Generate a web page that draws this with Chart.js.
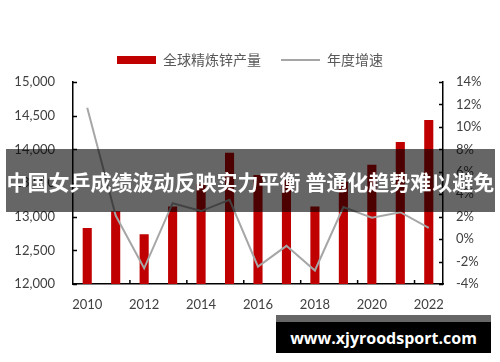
<!DOCTYPE html>
<html>
<head>
<meta charset="utf-8">
<script src="https://cdn.jsdelivr.net/npm/chart.js@4/dist/chart.umd.min.js"></script>
<style>
  body { margin: 0; background: #fff; }
  #wrap { position: relative; width: 500px; height: 362px; overflow: hidden; }
  #banner {
    position: absolute; left: 6px; top: 149px; width: 489px; height: 63px;
    background: rgba(0, 0, 0, 0.6); color: #fff;
    font: bold 21px "Noto Sans CJK SC", sans-serif;
    display: flex; align-items: center; justify-content: center; white-space: nowrap;
  }
  #mark {
    position: absolute; left: 276px; top: 315px; width: 215px; height: 31px;
    background: #000; border-top: 7px solid #666; color: #fff;
    font: bold 16px "Open Sans", sans-serif;
    display: flex; align-items: center; justify-content: center;
  }
</style>
</head>
<body>
<div id="wrap">
  <canvas id="chart" width="500" height="362"></canvas>
  <div id="banner">中国女乒成绩波动反映实力平衡 普通化趋势难以避免</div>
  <div id="mark">www.xjyroodsport.com</div>
</div>
<script>
// 연도 / 생산량(천톤) / 증가율(%)
const years = ["2010", "2011", "2012", "2013", "2014", "2015", "2016",
  "2017", "2018", "2019", "2020", "2021", "2022"];
const output = [12830, 13080, 12740, 13150, 13480, 13950, 13620,
  13540, 13150, 13520, 13770, 14110, 14435];
const growth = [11.7, 2.1, -2.6, 3.2, 2.5, 3.5, -2.45,
  -0.6, -2.8, 2.85, 1.9, 2.4, 1.0];

const TICK_FONT = { family: "Lato, 'Noto Sans CJK SC', sans-serif", size: 13 };

// 축 안쪽으로 짧은 눈금 표시 (엑셀 스타일)
const innerTicks = {
  id: "innerTicks",
  afterDraw(chart) {
    const { ctx, chartArea: a, scales } = chart;
    ctx.save();
    ctx.strokeStyle = "#000";
    ctx.lineWidth = 1.5;
    ctx.beginPath();
    scales.y.ticks.forEach((t, i) => {
      const py = Math.round(scales.y.getPixelForTick(i)) + 0.5;
      ctx.moveTo(a.left, py);
      ctx.lineTo(a.left + 4, py);
    });
    scales.y2.ticks.forEach((t, i) => {
      const py = Math.round(scales.y2.getPixelForTick(i)) + 0.5;
      ctx.moveTo(a.right - 4, py);
      ctx.lineTo(a.right, py);
    });
    for (let i = 1; i < years.length - 1; i += 2) {
      const px = (scales.x.getPixelForValue(i) + scales.x.getPixelForValue(i + 1)) / 2;
      ctx.moveTo(px, a.bottom);
      ctx.lineTo(px, a.bottom - 4);
    }
    ctx.stroke();
    ctx.restore();
  },
};

new Chart(document.getElementById("chart"), {
  data: {
    labels: years,
    datasets: [
      {
        type: "bar",
        label: "全球精炼锌产量",
        data: output,
        backgroundColor: "#c00000",
        borderWidth: 0,
        barPercentage: 0.32,
        categoryPercentage: 1,
        yAxisID: "y",
        order: 1,
      },
      {
        type: "line",
        label: "年度增速",
        data: growth,
        borderColor: "#a6a6a6",
        backgroundColor: "#a6a6a6",
        borderWidth: 2,
        pointRadius: 0,
        tension: 0,
        yAxisID: "y2",
        order: 0,
      },
    ],
  },
  options: {
    responsive: false,
    animation: false,
    devicePixelRatio: 1,
    layout: { padding: { top: 33, left: 0, right: 0, bottom: 0 } },
    plugins: {
      tooltip: { enabled: false },
      // 범례와 플롯 사이 여백용 빈 제목
      title: {
        display: true,
        text: " ",
        weight: 0,
        padding: 0,
        font: { size: 5, lineHeight: 1 },
      },
      legend: {
        position: "top",
        labels: {
          usePointStyle: true,
          pointStyleWidth: 39,
          boxHeight: 8,
          padding: 20,
          color: "#595959",
          font: { family: "'Noto Sans CJK SC', sans-serif", size: 14 },
          generateLabels: (chart) => {
            const items = Chart.defaults.plugins.legend.labels.generateLabels(chart);
            items.forEach((it) => {
              if (it.datasetIndex === 0) {
                it.pointStyle = "rect";
                it.lineWidth = 0;
                it.fillStyle = "#c00000";
              } else {
                it.pointStyle = "line";
                it.lineWidth = 2;
                it.strokeStyle = "#a6a6a6";
              }
            });
            return items.sort((p, q) => p.datasetIndex - q.datasetIndex);
          },
        },
      },
    },
    scales: {
      x: {
        grid: { display: false, drawTicks: false },
        border: { color: "#000", width: 1.5 },
        ticks: {
          autoSkip: false,
          maxRotation: 0,
          padding: 13,
          color: "#404040",
          font: TICK_FONT,
          callback: (v, i) => (i % 2 === 0 ? years[i] : ""),
        },
        afterFit: (s) => { s.height = 78; },
      },
      y: {
        position: "left",
        min: 12000,
        max: 15000,
        grid: { display: false, drawTicks: false },
        border: { color: "#000", width: 1.5 },
        ticks: {
          stepSize: 500,
          padding: 18,
          color: "#404040",
          font: TICK_FONT,
          callback: (v) => v.toLocaleString("en-US"),
        },
        afterFit: (s) => { s.width = 73; },
      },
      y2: {
        position: "right",
        min: -4,
        max: 14,
        grid: { display: false, drawTicks: false },
        border: { color: "#000", width: 1.5 },
        ticks: {
          stepSize: 2,
          padding: 13,
          color: "#404040",
          font: TICK_FONT,
          callback: (v) => `${v}%`,
        },
        afterFit: (s) => { s.width = 57; },
      },
    },
  },
  plugins: [innerTicks],
});
</script>
</body>
</html>
